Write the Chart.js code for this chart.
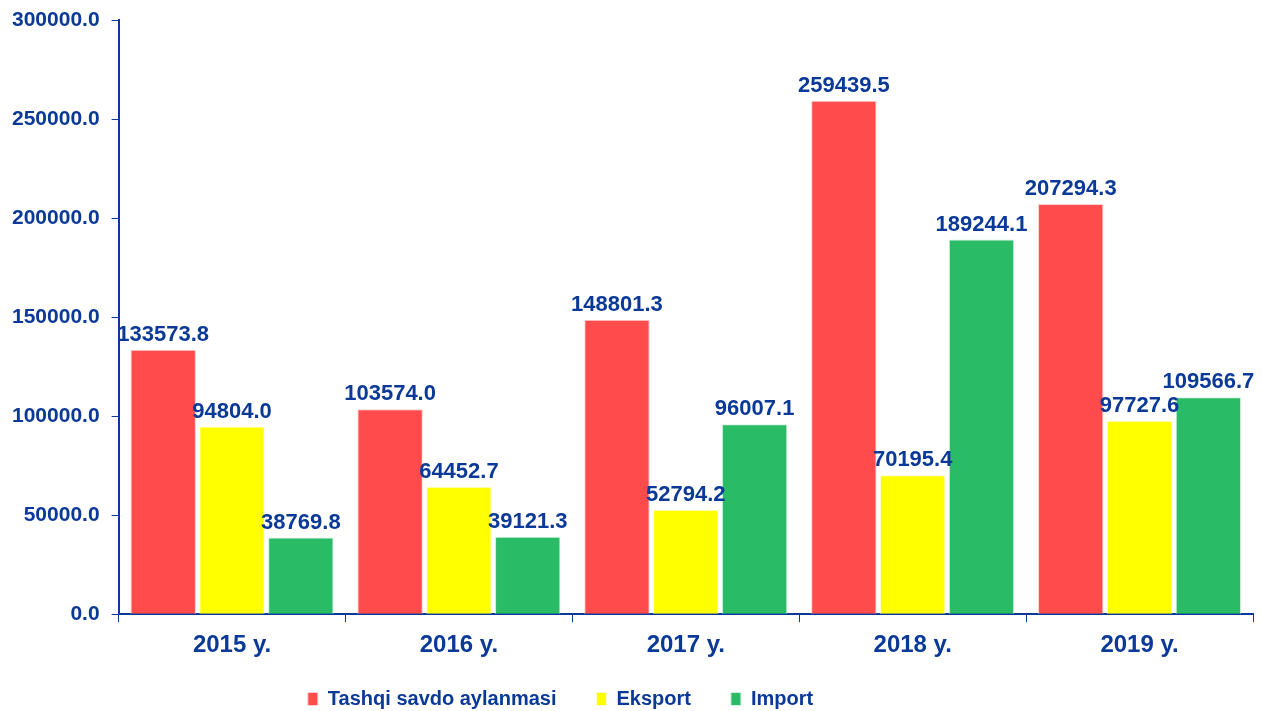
<!DOCTYPE html>
<html>
<head>
<meta charset="utf-8">
<script src="https://cdn.jsdelivr.net/npm/chart.js@4"></script>
<style>
  html, body { margin: 0; padding: 0; background: #ffffff; }
  #wrap { width: 1262px; height: 711px; }
</style>
</head>
<body>
<div id="wrap"><canvas id="tradeChart"></canvas></div>
<script>
// Chart data
var years = ["2015 y.", "2016 y.", "2017 y.", "2018 y.", "2019 y."];
var turnover = [133573.8, 103574.0, 148801.3, 259439.5, 207294.3];
var exports = [94804.0, 64452.7, 52794.2, 70195.4, 97727.6];
var imports = [38769.8, 39121.3, 96007.1, 189244.1, 109566.7];
var seriesNames = ["Tashqi savdo aylanmasi", "Eksport", "Import"];

var blue = "#0b3997";
var fontFamily = "'Liberation Sans', Arial, sans-serif";

// draws value labels above each bar
var valueLabels = {
    id: "valueLabels",
    afterDatasetsDraw: function (chart) {
        var ctx = chart.ctx;
        ctx.save();
        ctx.font = "bold 22px " + fontFamily;
        ctx.fillStyle = blue;
        ctx.textAlign = "center";
        ctx.textBaseline = "bottom";
        chart.data.datasets.forEach(function (ds, i) {
            chart.getDatasetMeta(i).data.forEach(function (bar, j) {
                ctx.fillText(ds.data[j].toFixed(1), bar.x, bar.y - 4);
            });
        });
        ctx.restore();
    }
};

// the legend in the original sits a bit left of centre
var moveLegend = {
    id: "moveLegend",
    afterLayout: function (chart) {
        var lg = chart.legend;
        lg.top = 649;
        lg.bottom = 711;
        lg.height = 62;
        lg.left = 0;
        lg.right = 1121;
    }
};

document.addEventListener("DOMContentLoaded", function () {
    var canvas = document.getElementById("tradeChart");
    new Chart(canvas, {
        type: "bar",
        data: {
            labels: years,
            datasets: [{
                label: seriesNames[0],
                backgroundColor: "#ff4b4b",
                borderColor: "#ffd0d0",
                borderWidth: 1,
                data: turnover
            }, {
                label: seriesNames[1],
                backgroundColor: "#ffff00",
                borderColor: "#ffffd0",
                borderWidth: 1,
                data: exports
            }, {
                label: seriesNames[2],
                backgroundColor: "#2abb67",
                borderColor: "#d0f0dc",
                borderWidth: 1,
                data: imports
            }]
        },
        options: {
            responsive: true,
            maintainAspectRatio: false,
            animation: false,
            categoryPercentage: 0.91,
            barPercentage: 0.95,
            layout: {
                padding: { top: 19, right: 9, left: 0, bottom: 0 }
            },
            plugins: {
                tooltip: { enabled: false },
                legend: {
                    position: "bottom",
                    maxHeight: 42,
                    labels: {
                        color: blue,
                        boxWidth: 10,
                        boxHeight: 13,
                        padding: 40,
                        font: { family: fontFamily, size: 20, weight: "bold" }
                    }
                }
            },
            scales: {
                x: {
                    grid: {
                        display: true,
                        drawOnChartArea: false,
                        color: blue,
                        tickLength: 8,
                        offset: true
                    },
                    border: { color: blue, width: 2 },
                    ticks: {
                        color: blue,
                        padding: 9,
                        font: { family: fontFamily, size: 24, weight: "bold" }
                    }
                },
                y: {
                    min: 0,
                    max: 300000,
                    grid: {
                        drawOnChartArea: false,
                        color: blue,
                        tickLength: 7
                    },
                    border: { color: blue, width: 2 },
                    ticks: {
                        stepSize: 50000,
                        color: blue,
                        padding: 12,
                        font: { family: fontFamily, size: 21, weight: "bold", lineHeight: 0.8 },
                        callback: function (v) { return v.toFixed(1); }
                    }
                }
            }
        },
        plugins: [valueLabels, moveLegend]
    });
});
</script>
</body>
</html>
